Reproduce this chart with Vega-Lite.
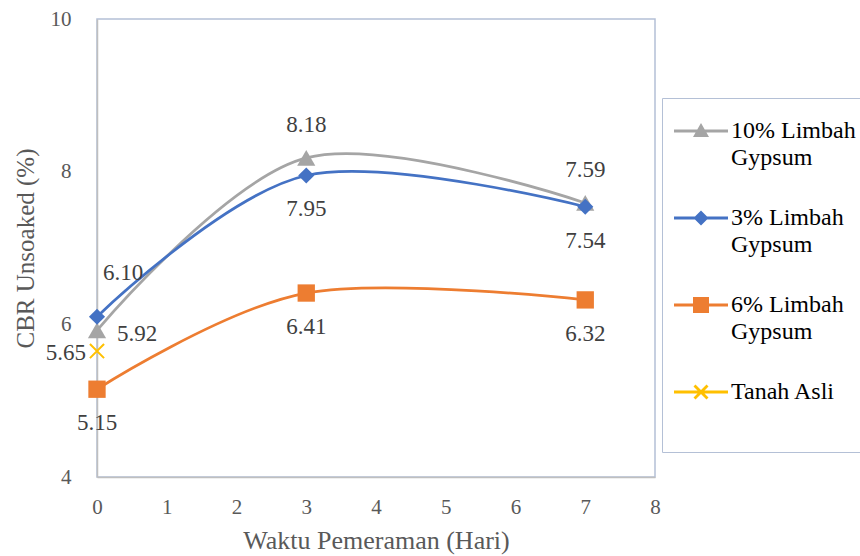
{
  "$schema": "https://vega.github.io/schema/vega-lite/v6.json",
  "width": 558,
  "height": 458,
  "autosize": {"type": "none"},
  "padding": {"left": 97, "top": 19, "right": 205, "bottom": 79},
  "background": "white",
  "config": {"view": {"stroke": "#B4C0D6", "strokeWidth": 1.5}, "font": "Liberation Serif"},
  "data": {
    "values": [
      {"series": "10% Limbah Gypsum", "hari": 0, "cbr": 5.92},
      {"series": "10% Limbah Gypsum", "hari": 3, "cbr": 8.18},
      {"series": "10% Limbah Gypsum", "hari": 7, "cbr": 7.59},
      {"series": "3% Limbah Gypsum", "hari": 0, "cbr": 6.10},
      {"series": "3% Limbah Gypsum", "hari": 3, "cbr": 7.95},
      {"series": "3% Limbah Gypsum", "hari": 7, "cbr": 7.54},
      {"series": "6% Limbah Gypsum", "hari": 0, "cbr": 5.15},
      {"series": "6% Limbah Gypsum", "hari": 3, "cbr": 6.41},
      {"series": "6% Limbah Gypsum", "hari": 7, "cbr": 6.32},
      {"series": "Tanah Asli", "hari": 0, "cbr": 5.65}
    ]
  },
  "encoding": {
    "x": {
      "field": "hari", "type": "quantitative",
      "scale": {"domain": [0, 8], "nice": false, "zero": false},
      "axis": {"title": "Waktu Pemeraman (Hari)", "values": [0, 1, 2, 3, 4, 5, 6, 7, 8], "grid": false, "ticks": false,
        "domainColor": "#BFBFBF", "domainWidth": 1.5, "labelFont": "Liberation Serif", "labelFontSize": 21,
        "labelColor": "#595959", "labelPadding": 19, "labelFlush": false, "titleFont": "Liberation Serif",
        "titleFontSize": 26, "titleFontWeight": "normal", "titleColor": "#595959", "titlePadding": 10}
    },
    "y": {
      "field": "cbr", "type": "quantitative",
      "scale": {"domain": [4, 10], "nice": false, "zero": false},
      "axis": {"title": "CBR Unsoaked (%)", "values": [4, 6, 8, 10], "grid": false, "ticks": false,
        "domainColor": "#BFBFBF", "domainWidth": 1.5, "labelFont": "Liberation Serif", "labelFontSize": 21,
        "labelColor": "#595959", "labelPadding": 26, "labelFlush": false, "titleFont": "Liberation Serif",
        "titleFontSize": 25, "titleFontWeight": "normal", "titleColor": "#595959", "titlePadding": 12}
    }
  },
  "layer": [
    {
      "data": {"values": [{"hari": 0.02, "cbr": 6.12, "hari2": 0.4, "cbr2": 6.45}]},
      "mark": {"type": "rule", "color": "#A6A6A6", "strokeWidth": 1},
      "encoding": {"x2": {"field": "hari2"}, "y2": {"field": "cbr2"}}
    },
    {
      "transform": [{"filter": "datum.series != 'Tanah Asli'"}],
      "mark": {"type": "line", "interpolate": "cardinal", "strokeWidth": 2.75},
      "encoding": {
        "stroke": {"field": "series", "type": "nominal", "legend": null,
          "scale": {"domain": ["10% Limbah Gypsum", "3% Limbah Gypsum", "6% Limbah Gypsum"],
            "range": ["#A5A5A5", "#4472C4", "#ED7D31"]}}
      }
    },
    {
      "transform": [{"filter": "datum.series == '10% Limbah Gypsum'"}],
      "mark": {"type": "point", "shape": "triangle-up", "filled": true, "color": "#A5A5A5", "size": 330, "opacity": 1}
    },
    {
      "transform": [{"filter": "datum.series == '3% Limbah Gypsum'"}],
      "mark": {"type": "point", "shape": "diamond", "filled": true, "color": "#4472C4", "size": 260, "opacity": 1}
    },
    {
      "transform": [{"filter": "datum.series == '6% Limbah Gypsum'"}],
      "mark": {"type": "point", "shape": "square", "filled": true, "color": "#ED7D31", "size": 300, "opacity": 1}
    },
    {
      "transform": [{"filter": "datum.series == 'Tanah Asli'"}],
      "mark": {"type": "point", "shape": "M-1,-1L1,1M1,-1L-1,1", "filled": false, "stroke": "#FFC000", "strokeWidth": 2, "size": 200, "opacity": 1}
    },
    {
      "mark": {"type": "point", "filled": true, "size": 0},
      "encoding": {
        "color": {
          "field": "series", "type": "nominal",
          "scale": {"domain": ["10% Limbah Gypsum", "3% Limbah Gypsum", "6% Limbah Gypsum", "Tanah Asli"],
            "range": ["#A5A5A5", "#4472C4", "#ED7D31", "#FFC000"]},
          "legend": {
            "title": null, "orient": "none", "legendX": 565, "legendY": 79, "direction": "vertical",
            "strokeColor": "#B4C0D6", "padding": 21, "symbolSize": 400, "symbolOpacity": 1,
            "symbolStrokeWidth": 0, "labelFont": "Liberation Serif", "labelFontSize": 24, "labelColor": "#000000",
            "labelOffset": 24, "labelLimit": 300, "rowPadding": 36, "labelBaseline": "middle",
            "labelExpr": "datum.label == 'Tanah Asli' ? ['Tanah Asli', ''] : [replace(datum.label, ' Gypsum', ''), 'Gypsum']",
            "encode": {
              "labels": {"update": {"lineHeight": {"value": 27}}},
              "symbols": {"update": {"size": {"value": 400}, "opacity": {"value": 1}}}
            }
          }
        },
        "shape": {
          "field": "series", "type": "nominal",
          "scale": {"domain": ["10% Limbah Gypsum", "3% Limbah Gypsum", "6% Limbah Gypsum", "Tanah Asli"],
            "range": [
              "M-2.1,-0.15H3.3V0.15H-2.1Z M0.6,-0.8L1.4,0.6H-0.2Z",
              "M-2.1,-0.15H3.3V0.15H-2.1Z M0.6,-0.75L1.35,0L0.6,0.75L-0.15,0Z",
              "M-2.1,-0.15H3.3V0.15H-2.1Z M-0.2,-0.8H1.4V0.8H-0.2Z",
              "M-2.1,-0.15H3.3V0.15H-2.1Z M0.05,-0.75L1.35,0.55L1.15,0.75L-0.15,-0.55Z M1.15,-0.75L1.35,-0.55L0.05,0.75L-0.15,0.55Z"
            ]}
        }
      }
    },
    {
      "transform": [{"filter": "datum.series == '10% Limbah Gypsum' && datum.hari > 0"}],
      "mark": {"type": "text", "font": "Liberation Serif", "fontSize": 23, "color": "#404040", "baseline": "middle", "dy": -33},
      "encoding": {"text": {"field": "cbr", "type": "quantitative", "format": ".2f"}}
    },
    {
      "transform": [{"filter": "(datum.series == '3% Limbah Gypsum' && datum.hari > 0) || datum.series == '6% Limbah Gypsum'"}],
      "mark": {"type": "text", "font": "Liberation Serif", "fontSize": 23, "color": "#404040", "baseline": "middle", "dy": 34},
      "encoding": {"text": {"field": "cbr", "type": "quantitative", "format": ".2f"}}
    },
    {
      "transform": [{"filter": "datum.series == '3% Limbah Gypsum' && datum.hari == 0"}],
      "mark": {"type": "text", "font": "Liberation Serif", "fontSize": 23, "color": "#404040", "baseline": "middle", "align": "left", "dx": 6, "dy": -44},
      "encoding": {"text": {"field": "cbr", "type": "quantitative", "format": ".2f"}}
    },
    {
      "transform": [{"filter": "datum.series == '10% Limbah Gypsum' && datum.hari == 0"}],
      "mark": {"type": "text", "font": "Liberation Serif", "fontSize": 23, "color": "#404040", "baseline": "middle", "align": "left", "dx": 20, "dy": 4},
      "encoding": {"text": {"field": "cbr", "type": "quantitative", "format": ".2f"}}
    },
    {
      "transform": [{"filter": "datum.series == 'Tanah Asli'"}],
      "mark": {"type": "text", "font": "Liberation Serif", "fontSize": 23, "color": "#404040", "baseline": "middle", "align": "right", "dx": -11, "dy": 2},
      "encoding": {"text": {"field": "cbr", "type": "quantitative", "format": ".2f"}}
    }
  ]
}
